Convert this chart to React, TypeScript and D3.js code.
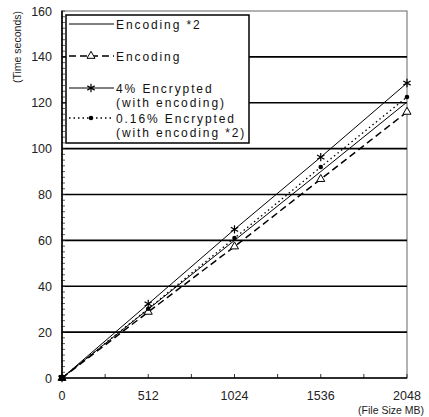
import { useEffect, useRef } from "react";
import * as d3 from "d3";

const fileSizes = [0, 512, 1024, 1536, 2048];
const encodingX2 = [0, 30, 60, 90, 120.3];
const encoding = [0, 28.8, 57.3, 86.7, 116];
const encrypted4 = [0, 32.3, 64.8, 96.3, 128.6];
const encrypted016 = [0, 30.2, 61, 92, 122.5];
const yTicks = [0, 20, 40, 60, 80, 100, 120, 140, 160];
const xTicks = [0, 512, 1024, 1536, 2048];

const seriesNames = ["Encoding *2", "Encoding", "4% Encrypted", "0.16% Encrypted"];
const seriesSubs = ["", "", "(with encoding)", "(with encoding *2)"];

const FONT = "'Liberation Sans', Arial, sans-serif";

function App() {
  const chartRef = useRef<SVGSVGElement>(null);

  useEffect(() => {
    const svg = d3.select(chartRef.current);
    svg.selectAll("*").remove();

    const width = 429;
    const height = 417;
    const margin = { top: 11, right: 22, bottom: 39, left: 62 };

    const x = d3
      .scaleLinear()
      .domain([0, 2048])
      .range([margin.left, width - margin.right]);

    const y = d3
      .scaleLinear()
      .domain([0, 160])
      .range([height - margin.bottom, margin.top]);

    svg.append("rect").attr("width", width).attr("height", height).attr("fill", "#fff");

    // frame
    svg
      .append("rect")
      .attr("x", x(0))
      .attr("y", y(160))
      .attr("width", x(2048) - x(0))
      .attr("height", y(0) - y(160))
      .attr("fill", "none")
      .attr("stroke", "#666")
      .attr("stroke-width", 1);

    // gridlines
    svg
      .append("g")
      .selectAll("line")
      .data(yTicks.filter((d) => d > 0 && d < 160))
      .join("line")
      .attr("x1", x(0))
      .attr("x2", x(2048))
      .attr("y1", (d) => y(d))
      .attr("y2", (d) => y(d))
      .attr("stroke", "#000")
      .attr("stroke-width", 1.6);

    // minor ticks
    svg
      .append("g")
      .selectAll("line")
      .data(d3.range(0, 160.1, 2.5))
      .join("line")
      .attr("x1", x(0) - 1)
      .attr("x2", x(0) + 3)
      .attr("y1", (d) => y(d))
      .attr("y2", (d) => y(d))
      .attr("stroke", "#333")
      .attr("stroke-width", 0.8);

    svg
      .append("g")
      .selectAll("line")
      .data(d3.range(0, 2049, 256))
      .join("line")
      .attr("x1", (d) => x(d))
      .attr("x2", (d) => x(d))
      .attr("y1", y(0))
      .attr("y2", y(0) - 4)
      .attr("stroke", "#333")
      .attr("stroke-width", 1);

    // axes lines
    svg
      .append("line")
      .attr("x1", x(0))
      .attr("x2", x(0))
      .attr("y1", y(0))
      .attr("y2", y(160))
      .attr("stroke", "#000")
      .attr("stroke-width", 1.6);
    svg
      .append("line")
      .attr("x1", x(0))
      .attr("x2", x(2048))
      .attr("y1", y(0))
      .attr("y2", y(0))
      .attr("stroke", "#000")
      .attr("stroke-width", 1.6);

    // tick labels
    svg
      .append("g")
      .selectAll("text")
      .data(yTicks)
      .join("text")
      .attr("x", 52)
      .attr("y", (d) => y(d) + 4.5)
      .attr("text-anchor", "end")
      .attr("font-family", FONT)
      .attr("font-size", 12.5)
      .attr("fill", "#222")
      .text((d) => d);

    svg
      .append("g")
      .selectAll("text")
      .data(xTicks)
      .join("text")
      .attr("x", (d) => x(d))
      .attr("y", 400)
      .attr("text-anchor", "middle")
      .attr("font-family", FONT)
      .attr("font-size", 12.5)
      .attr("fill", "#222")
      .text((d) => d);

    svg
      .append("text")
      .attr("transform", `translate(21,47) rotate(-90)`)
      .attr("text-anchor", "middle")
      .attr("font-family", FONT)
      .attr("font-size", 10.5)
      .attr("fill", "#222")
      .text("(Time seconds)");

    svg
      .append("text")
      .attr("x", 424)
      .attr("y", 414)
      .attr("text-anchor", "end")
      .attr("font-family", FONT)
      .attr("font-size", 10.5)
      .attr("fill", "#222")
      .text("(File Size MB)");

    const line = d3
      .line<number>()
      .x((_, i) => x(fileSizes[i]))
      .y((d) => y(d));

    const styles = [
      { values: encodingX2, dash: null, width: 1, marker: "none" },
      { values: encoding, dash: "7,4", width: 1.5, marker: "triangle" },
      { values: encrypted4, dash: null, width: 1, marker: "star" },
      { values: encrypted016, dash: "1.5,3", width: 1.3, marker: "dot" },
    ];

    const drawMarker = (g: any, kind: string, cx: number, cy: number) => {
      if (kind === "triangle") {
        g.append("path")
          .attr("d", d3.symbol().type(d3.symbolTriangle).size(28)())
          .attr("transform", `translate(${cx},${cy})`)
          .attr("fill", "#fff")
          .attr("stroke", "#000")
          .attr("stroke-width", 1);
      } else if (kind === "star") {
        g.append("path")
          .attr("d", d3.symbol().type(d3.symbolAsterisk).size(50)())
          .attr("transform", `translate(${cx},${cy})`)
          .attr("fill", "none")
          .attr("stroke", "#000")
          .attr("stroke-width", 1.2);
      } else if (kind === "dot") {
        g.append("circle")
          .attr("cx", cx)
          .attr("cy", cy)
          .attr("r", 2.3)
          .attr("fill", "#000");
      }
    };

    const plot = svg.append("g");
    styles.forEach((s) => {
      plot
        .append("path")
        .datum(s.values)
        .attr("fill", "none")
        .attr("stroke", "#000")
        .attr("stroke-width", s.width)
        .attr("stroke-dasharray", s.dash)
        .attr("d", line);
    });
    styles.forEach((s) => {
      s.values.forEach((v, i) => drawMarker(plot, s.marker, x(fileSizes[i]), y(v)));
    });
    plot
      .append("rect")
      .attr("x", x(0) - 3)
      .attr("y", y(0) - 3)
      .attr("width", 6)
      .attr("height", 6)
      .attr("fill", "#000");

    // legend
    const legend = svg.append("g");
    legend
      .append("rect")
      .attr("x", 66)
      .attr("y", 15)
      .attr("width", 183)
      .attr("height", 128)
      .attr("fill", "#fff")
      .attr("stroke", "#000")
      .attr("stroke-width", 1.5);

    const rowY = [24, 56, 88, 118];
    styles.forEach((s, i) => {
      legend
        .append("line")
        .attr("x1", 69)
        .attr("x2", 114)
        .attr("y1", rowY[i])
        .attr("y2", rowY[i])
        .attr("stroke", "#000")
        .attr("stroke-width", s.width)
        .attr("stroke-dasharray", s.dash);
      drawMarker(legend, s.marker, 91, rowY[i]);
      legend
        .append("text")
        .attr("x", 116)
        .attr("y", rowY[i] + 4.5)
        .attr("font-family", FONT)
        .attr("font-size", 12)
        .attr("letter-spacing", 1.9)
        .attr("fill", "#111")
        .text(seriesNames[i]);
      if (seriesSubs[i]) {
        legend
          .append("text")
          .attr("x", 116)
          .attr("y", rowY[i] + 18.5)
          .attr("font-family", FONT)
          .attr("font-size", 12)
          .attr("letter-spacing", 1.9)
          .attr("fill", "#111")
          .text(seriesSubs[i]);
      }
    });
  }, []);

  return (
    <svg
      ref={chartRef}
      width="429"
      height="417"
      style={{ position: "absolute", left: 0, top: 0 }}
    ></svg>
  );
}

export default App;
